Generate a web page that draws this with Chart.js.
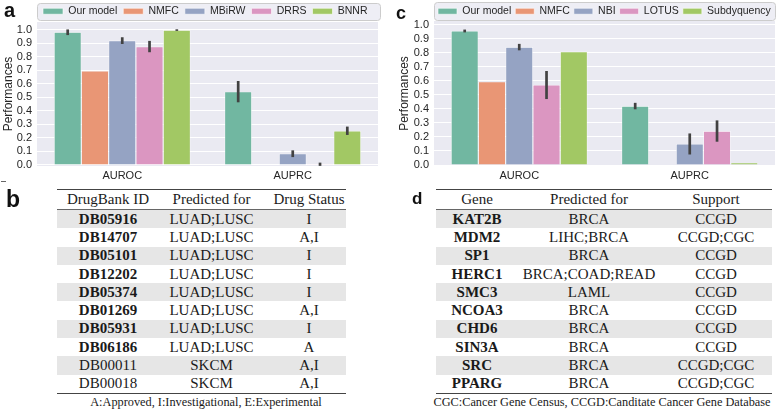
<!DOCTYPE html>
<html>
<head>
<meta charset="utf-8">
<script src="https://cdn.jsdelivr.net/npm/chart.js@4.4.0/dist/chart.umd.min.js"></script>
<style>
    body { margin: 0; width: 777px; height: 411px; position: relative; overflow: hidden; background: #fff;
           font-family: "Liberation Sans", Arial, sans-serif; }
    canvas { position: absolute; top: 0; }
    .tag { position: absolute; font-weight: bold; color: #111; line-height: 1; }
    table { position: absolute; border-collapse: collapse; table-layout: fixed;
            font-family: "Liberation Serif", "Times New Roman", serif; font-size: 15px; color: #1a1a1a; }
    th, td { text-align: center; padding: 0; white-space: nowrap; font-weight: normal; }
    th { height: 19px; border-top: 1.3px solid #444; border-bottom: 1px solid #666; }
    td { height: 18.3px; }
    tr.shade td { background: #e6e6e6; }
    tr:last-child td { border-bottom: 1px solid #444; }
    .b { font-weight: bold; }
    .note { position: absolute; top: 395px; font-family: "Liberation Serif", "Times New Roman", serif;
            font-size: 12.3px; color: #1a1a1a; white-space: nowrap; transform: translateX(-50%); }
</style>
</head>
<body>
<canvas id="chartA" width="390" height="185" style="left:0;width:390px;height:185px"></canvas>
<canvas id="chartC" width="387" height="185" style="left:390px;width:387px;height:185px"></canvas>
<div class="tag" style="left:4px;top:0;font-size:20px">a</div>
<div class="tag" style="left:6px;top:187.5px;font-size:23px">b</div>
<div class="tag" style="left:396px;top:4px;font-size:18px">c</div>
<div class="tag" style="left:412px;top:189.5px;font-size:17px">d</div>
<div style="position:absolute;left:1px;top:181px;width:5px;height:1px;background:#666"></div>
<table id="tableB" style="left:57px;top:189px;width:289px"></table>
<table id="tableD" style="left:436px;top:189px;width:336px"></table>
<div class="note" style="left:206px">A:Approved, I:Investigational, E:Experimental</div>
<div class="note" style="left:602px">CGC:Cancer Gene Census, CCGD:Canditate Cancer Gene Database</div>

<script>
// ---- data ----
const metrics = ['AUROC', 'AUPRC'];
const yTicks = [0, 0.1, 0.2, 0.3, 0.4, 0.5, 0.6, 0.7, 0.8, 0.9, 1.0];
const palette = ['#71b7a1', '#e99675', '#95a3c3', '#db96c1', '#a2c864'];

// panel a: drug prediction
const drugMethods = ['Our model', 'NMFC', 'MBiRW', 'DRRS', 'BNNR'];
const drugValues = [[0.983, 0.543], [0.696, 0], [0.921, 0.083], [0.877, 0.005], [0.999, 0.253]];
const drugErrors = [[0.021, 0.079], [0, 0], [0.025, 0.025], [0.042, 0.012], [0.006, 0.031]];

// panel c: gene prediction
const geneMethods = ['Our model', 'NMFC', 'NBI', 'LOTUS', 'Subdyquency'];
const geneValues = [[0.955, 0.420], [0.594, 0], [0.840, 0.150], [0.570, 0.242], [0.808, 0.017]];
const geneErrors = [[0.010, 0.023], [0, 0], [0.023, 0.075], [0.100, 0.076], [0, 0]];

// panel b table
const drugHeader = ['DrugBank ID', 'Predicted for', 'Drug Status'];
const drugIds = ['DB05916', 'DB14707', 'DB05101', 'DB12202', 'DB05374', 'DB01269', 'DB05931', 'DB06186', 'DB00011', 'DB00018'];
const drugCancers = ['LUAD;LUSC', 'LUAD;LUSC', 'LUAD;LUSC', 'LUAD;LUSC', 'LUAD;LUSC', 'LUAD;LUSC', 'LUAD;LUSC', 'LUAD;LUSC', 'SKCM', 'SKCM'];
const drugStatus = ['I', 'A,I', 'I', 'I', 'I', 'A,I', 'I', 'A', 'A,I', 'A,I'];
const drugBoldCount = 8;

// panel d table
const geneHeader = ['Gene', 'Predicted for', 'Support'];
const genes = ['KAT2B', 'MDM2', 'SP1', 'HERC1', 'SMC3', 'NCOA3', 'CHD6', 'SIN3A', 'SRC', 'PPARG'];
const geneCancers = ['BRCA', 'LIHC;BRCA', 'BRCA', 'BRCA;COAD;READ', 'LAML', 'BRCA', 'BRCA', 'BRCA', 'BRCA', 'BRCA'];
const geneSupport = ['CCGD', 'CCGD;CGC', 'CCGD', 'CCGD', 'CCGD', 'CCGD', 'CCGD', 'CCGD', 'CCGD;CGC', 'CCGD;CGC'];

Chart.defaults.font.family = '"Liberation Sans", Arial, sans-serif';
Chart.defaults.color = '#262626';

// axes background + legend frame
const panelBackground = {
    id: 'panelBackground',
    beforeDraw(chart, args, opts) {
        const { ctx, chartArea: a } = chart;
        ctx.save();
        ctx.fillStyle = '#eaeaf2';
        ctx.fillRect(a.left, a.top, a.right - a.left, a.bottom - a.top);
        const f = opts.frame;
        ctx.beginPath();
        ctx.roundRect(f.x + 0.5, f.y + 0.5, f.w, f.h, 3);
        ctx.fillStyle = '#eeeef5';
        ctx.fill();
        ctx.strokeStyle = '#cccccc';
        ctx.lineWidth = 1;
        ctx.stroke();
        ctx.restore();
    }
};

const errorBars = {
    id: 'errorBars',
    afterDatasetsDraw(chart) {
        const { ctx, scales: { y } } = chart;
        ctx.save();
        ctx.strokeStyle = '#424242';
        ctx.lineWidth = 2.7;
        chart.data.datasets.forEach((ds, i) => {
            chart.getDatasetMeta(i).data.forEach((bar, j) => {
                const e = ds.errors[j];
                if (!e) return;
                const v = ds.data[j];
                ctx.beginPath();
                ctx.moveTo(bar.x, y.getPixelForValue(v - e));
                ctx.lineTo(bar.x, y.getPixelForValue(v + e));
                ctx.stroke();
            });
        });
        ctx.restore();
    }
};

function makeChart(id, methods, values, errors, cfg) {
    return new Chart(document.getElementById(id), {
        type: 'bar',
        data: {
            labels: metrics,
            datasets: methods.map((m, i) => ({
                label: m,
                data: values[i],
                errors: errors[i],
                backgroundColor: palette[i],
                borderColor: '#ffffff',
                borderWidth: 0.6,
                categoryPercentage: 0.8,
                barPercentage: 1.0
            }))
        },
        options: {
            responsive: false,
            animation: false,
            layout: { padding: { top: cfg.padTop, right: cfg.padRight, bottom: 0, left: 0 } },
            plugins: {
                legend: {
                    position: 'top',
                    align: 'start',
                    fullSize: false,
                    maxHeight: cfg.legendH,
                    labels: { boxWidth: cfg.boxW, boxHeight: 6, padding: cfg.legendPad, font: { size: 10.5 } }
                },
                tooltip: { enabled: false },
                panelBackground: { frame: cfg.frame }
            },
            scales: {
                x: {
                    grid: { display: false, drawTicks: false },
                    border: { display: false },
                    ticks: { font: { size: 11 }, padding: 3 },
                    afterFit: (s) => { s.height = 19; }
                },
                y: {
                    min: cfg.yMin,
                    max: cfg.yMax,
                    afterBuildTicks: (s) => { s.ticks = yTicks.map(v => ({ value: v })); },
                    afterFit: (s) => { s.width = cfg.axisW; },
                    grid: { color: '#ffffff', lineWidth: 1, drawTicks: false },
                    border: { display: false },
                    ticks: { font: { size: 11 }, padding: 5, autoSkip: false, callback: (v) => Number(v).toFixed(1) },
                    title: { display: true, text: 'Performances', font: { size: 12 }, padding: { top: cfg.titlePad, bottom: 0 } }
                }
            }
        },
        plugins: [panelBackground, errorBars]
    });
}

makeChart('chartA', drugMethods, drugValues, drugErrors, {
    padTop: 0, padRight: 12, legendH: 22, boxW: 20, legendPad: 6,
    yMin: -0.008, yMax: 1.059, axisW: 37, titlePad: 1,
    frame: { x: 37, y: 3, w: 343, h: 17 }
});

makeChart('chartC', geneMethods, geneValues, geneErrors, {
    padTop: 2, padRight: 2, legendH: 19, boxW: 19, legendPad: 4,
    yMin: -0.007, yMax: 1.026, axisW: 44, titlePad: 7,
    frame: { x: 44, y: 2, w: 341, h: 18 }
});

// ---- tables ----
function buildTable(id, header, cols, widths, boldFirst, lastPad) {
    const t = document.getElementById(id);
    let html = '<colgroup>' + widths.map(w => `<col style="width:${w}px">`).join('') + '</colgroup>';
    html += '<tr>' + header.map((h, k) => `<th${k === 2 ? ` style="padding-left:${lastPad}px"` : ''}>${h}</th>`).join('') + '</tr>';
    cols[0].forEach((_, r) => {
        html += `<tr${r % 2 === 0 ? ' class="shade"' : ''}>`;
        cols.forEach((c, k) => {
            const cls = (k === 0 && r < boldFirst) ? ' class="b"' : '';
            const st = k === 2 ? ` style="padding-left:${lastPad}px"` : '';
            html += `<td${cls}${st}>${c[r]}</td>`;
        });
        html += '</tr>';
    });
    t.innerHTML = html;
}

buildTable('tableB', drugHeader, [drugIds, drugCancers, drugStatus], [102, 105, 82], drugBoldCount, 8);
buildTable('tableD', geneHeader, [genes, geneCancers, geneSupport], [82, 142, 112], genes.length, 0);
</script>
</body>
</html>
